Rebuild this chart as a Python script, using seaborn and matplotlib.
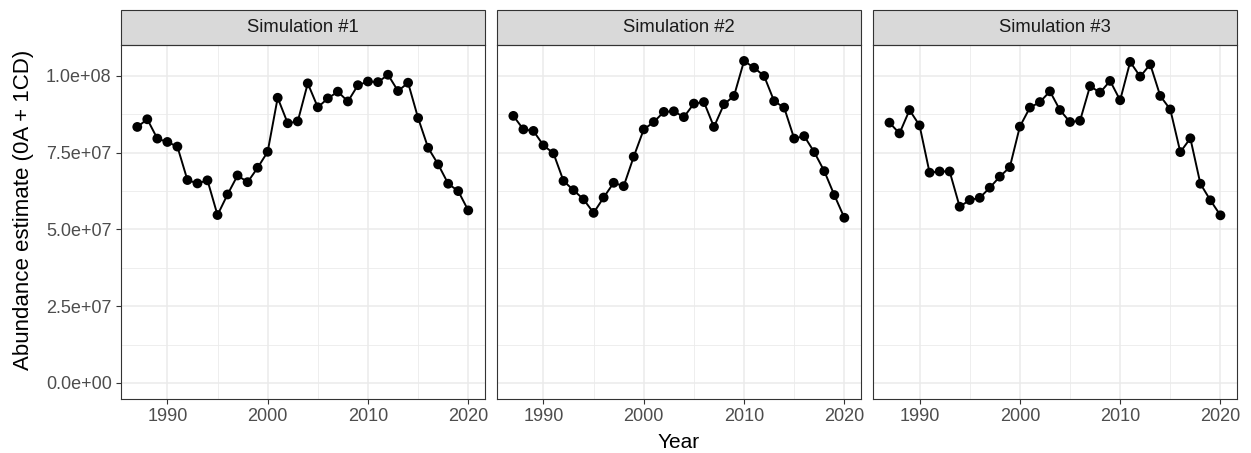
import numpy as np
import pandas as pd
import seaborn as sns
import matplotlib.pyplot as plt
from matplotlib.patches import Rectangle
from matplotlib.ticker import FixedLocator, FuncFormatter

# values
years = list(range(1987, 2021))
sim1 = [8.34e7, 8.59e7, 7.96e7, 7.85e7, 7.70e7, 6.61e7, 6.50e7, 6.60e7, 5.47e7, 6.14e7,
        6.76e7, 6.54e7, 7.01e7, 7.53e7, 9.29e7, 8.46e7, 8.52e7, 9.76e7, 8.98e7, 9.27e7,
        9.49e7, 9.17e7, 9.70e7, 9.82e7, 9.80e7, 1.004e8, 9.51e7, 9.78e7, 8.63e7, 7.66e7,
        7.12e7, 6.49e7, 6.25e7, 5.62e7]
sim2 = [8.70e7, 8.26e7, 8.21e7, 7.74e7, 7.48e7, 6.58e7, 6.28e7, 5.98e7, 5.54e7, 6.04e7,
        6.52e7, 6.41e7, 7.37e7, 8.26e7, 8.50e7, 8.83e7, 8.85e7, 8.66e7, 9.10e7, 9.15e7,
        8.34e7, 9.08e7, 9.35e7, 1.049e8, 1.027e8, 1.000e8, 9.18e7, 8.97e7, 7.96e7, 8.04e7,
        7.52e7, 6.90e7, 6.12e7, 5.38e7]
sim3 = [8.48e7, 8.13e7, 8.89e7, 8.39e7, 6.85e7, 6.89e7, 6.89e7, 5.74e7, 5.96e7, 6.03e7,
        6.36e7, 6.72e7, 7.03e7, 8.35e7, 8.97e7, 9.15e7, 9.50e7, 8.89e7, 8.50e7, 8.54e7,
        9.67e7, 9.46e7, 9.84e7, 9.21e7, 1.046e8, 9.98e7, 1.038e8, 9.35e7, 8.91e7, 7.52e7,
        7.97e7, 6.49e7, 5.95e7, 5.46e7]
panels = ['Simulation #1', 'Simulation #2', 'Simulation #3']

df = pd.DataFrame({
    'Year': years * 3,
    'abundance': sim1 + sim2 + sim3,
    'sim': np.repeat(panels, len(years)),
})

sns.set_theme(style='white')
plt.rcParams['font.family'] = ['Liberation Sans', 'DejaVu Sans']

g = sns.FacetGrid(df, col='sim', col_order=panels, sharex=True, sharey=True, despine=False)
g.map_dataframe(sns.lineplot, x='Year', y='abundance', color='black', linewidth=1.4)
g.map_dataframe(sns.scatterplot, x='Year', y='abundance', color='black', s=50,
                edgecolor='none', zorder=3)
g.figure.set_size_inches(12.51, 4.53)
g.figure.subplots_adjust(left=0.0965, right=0.9888, bottom=0.1192, top=0.9007, wspace=0.033)

ylo, yhi = -5.24e6, 1.101e8
for ax, name in zip(g.axes.flat, panels):
    ax.set_xlim(1985.35, 2021.65)
    ax.set_ylim(ylo, yhi)
    ax.xaxis.set_major_locator(FixedLocator([1990, 2000, 2010, 2020]))
    ax.xaxis.set_minor_locator(FixedLocator([1995, 2005, 2015]))
    ax.yaxis.set_major_locator(FixedLocator([0, 2.5e7, 5e7, 7.5e7, 1e8]))
    ax.yaxis.set_minor_locator(FixedLocator([1.25e7, 3.75e7, 6.25e7, 8.75e7]))
    ax.yaxis.set_major_formatter(FuncFormatter(lambda v, p: f'{v:.1e}'))
    ax.grid(True, which='major', color='#EBEBEB', linewidth=1.1)
    ax.grid(True, which='minor', color='#EBEBEB', linewidth=0.6)
    ax.set_axisbelow(True)
    ax.tick_params(which='major', length=3.5, width=0.8, color='#333333',
                   labelsize=13, labelcolor='#4D4D4D', pad=3, left=True, bottom=True)
    ax.tick_params(which='minor', length=0)
    for s in ax.spines.values():
        s.set_color('#333333')
        s.set_linewidth(0.8)
    ax.set_title('')
    ax.set_xlabel('')
    ax.set_ylabel('')
    # facet strip
    strip = Rectangle((0, 1), 1, 0.0989, transform=ax.transAxes, clip_on=False,
                      facecolor='#D9D9D9', edgecolor='#333333', linewidth=0.8)
    ax.add_patch(strip)
    ax.text(0.5, 1.049, name, transform=ax.transAxes, ha='center', va='center',
            fontsize=13.3, color='#1A1A1A')

for ax in g.axes.flat[1:]:
    ax.tick_params(axis='y', left=False, labelleft=False)

g.figure.text(0.0185, 0.5364, 'Abundance estimate (0A + 1CD)', rotation=90,
              ha='center', va='center', fontsize=16, color='black')
g.figure.text(0.5428, 0.011, 'Year', ha='center', va='baseline', fontsize=15, color='black')

g.figure.savefig('out.png', dpi=100)
